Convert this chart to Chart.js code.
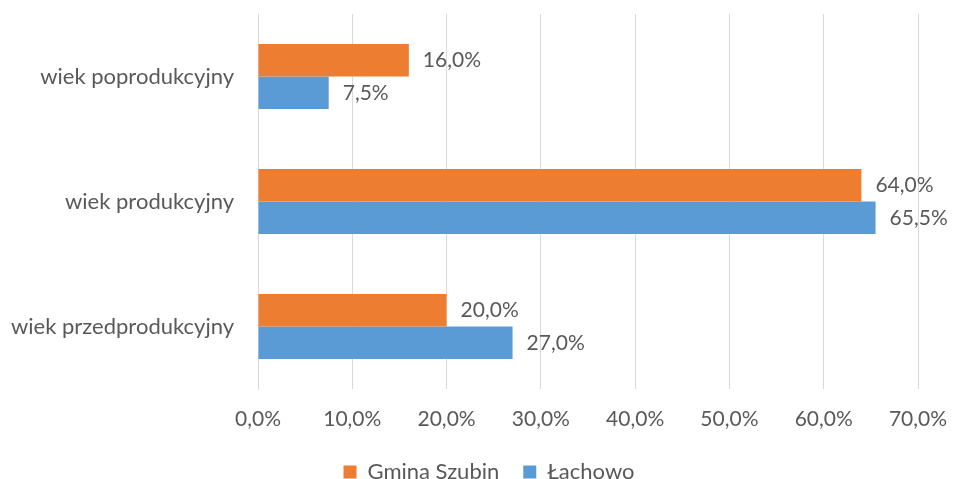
<!doctype html>
<html>
<head>
<meta charset="UTF-8">
<title>Struktura wieku</title>
<script src="https://cdn.jsdelivr.net/npm/chart.js@4.4.1/dist/chart.umd.min.js"></script>
<style>
  html, body { margin: 0; padding: 0; background: #fff; overflow: hidden; }
  #wrap { width: 955px; height: 493px; }
</style>
</head>
<body>
<div id="wrap"><canvas id="canvas"></canvas></div>
<script>
// dane
var kategorie = ['wiek poprodukcyjny', 'wiek produkcyjny', 'wiek przedprodukcyjny'];
var szubin = [16.0, 64.0, 20.0];
var lachowo = [7.5, 65.5, 27.0];
var serie = ['Gmina Szubin', 'Łachowo'];

var FONT = 'Lato, "Open Sans", sans-serif';
var SZARY = '#595959';

function fmt(v) {
  return v.toFixed(1).replace('.', ',') + '%';
}

// etykiety wartosci obok slupkow
var etykiety = {
  id: 'etykiety',
  afterDatasetsDraw: function(chart) {
    var ctx = chart.ctx;
    ctx.save();
    ctx.font = '21px ' + FONT;
    ctx.fillStyle = SZARY;
    ctx.textAlign = 'left';
    ctx.textBaseline = 'middle';
    chart.data.datasets.forEach(function(ds, i) {
      var meta = chart.getDatasetMeta(i);
      meta.data.forEach(function(bar, j) {
        ctx.fillText(fmt(ds.data[j]), bar.x + 14, bar.y);
      });
    });
    ctx.restore();
  }
};

var ctx = document.getElementById('canvas').getContext('2d');
window.myBar = new Chart(ctx, {
  type: 'bar',
  data: {
    labels: kategorie,
    datasets: [{
      label: serie[0],
      backgroundColor: '#ED7D31',
      data: szubin
    }, {
      label: serie[1],
      backgroundColor: '#5B9BD5',
      data: lachowo
    }]
  },
  options: {
    indexAxis: 'y',
    responsive: true,
    maintainAspectRatio: false,
    animation: false,
    layout: { padding: { top: 14, right: 37, bottom: 0, left: 60 } },
    datasets: {
      bar: { barPercentage: 1, categoryPercentage: 0.52 }
    },
    plugins: {
      legend: {
        position: 'bottom',
        labels: {
          font: { family: FONT, size: 22 },
          color: SZARY,
          boxWidth: 13,
          boxHeight: 13,
          padding: 24
        }
      },
      tooltip: { enabled: false }
    },
    scales: {
      x: {
        min: 0,
        max: 70,
        afterFit: function(scale) {
          scale.paddingLeft = 0;
          scale.paddingRight = 0;
          scale.height = 48;
        },
        ticks: {
          stepSize: 10,
          color: SZARY,
          font: { family: FONT, size: 21 },
          padding: 18,
          callback: function(v) { return fmt(v); }
        },
        grid: { color: '#d9d9d9', drawTicks: false },
        border: { display: false }
      },
      y: {
        afterFit: function(scale) {
          scale.width = 198;
          scale.paddingTop = 0;
          scale.paddingBottom = 0;
          // nie przycinaj dlugich etykiet do szerokosci osi
          scale._computeLabelArea = function() { return undefined; };
        },
        ticks: {
          color: SZARY,
          font: { family: FONT, size: 22 },
          padding: 16
        },
        grid: { display: false },
        border: { display: true, color: '#d9d9d9' }
      }
    }
  },
  plugins: [etykiety]
});
</script>
</body>
</html>
